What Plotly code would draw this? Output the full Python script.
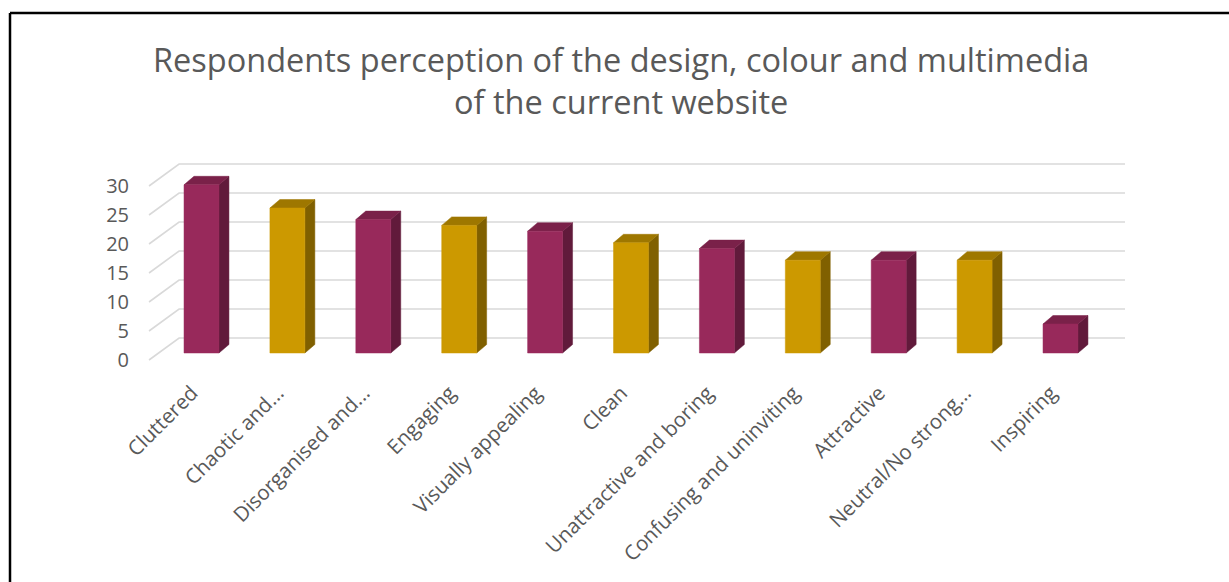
import plotly.graph_objects as go

categories = ["Cluttered", "Chaotic and...", "Disorganised and...", "Engaging",
              "Visually appealing", "Clean", "Unattractive and boring",
              "Confusing and uninviting", "Attractive", "Neutral/No strong...", "Inspiring"]
values = [29, 25, 23, 22, 21, 19, 18, 16, 16, 16, 5]
y_ticks = [0, 5, 10, 15, 20, 25, 30]
title_text = "Respondents perception of the design, colour and multimedia<br>of the current website"

# palette: (front, side, top)
MAG = ("#98295B", "#611A3B", "#7A2149")
GOLD = ("#CC9900", "#806000", "#9E7700")
palette = [MAG if i % 2 == 0 else GOLD for i in range(len(categories))]

# pseudo-3D geometry, in data units (x: category index, y: value)
BAR_HW = 0.2035          # half width of the front face
SDX, SDY = 0.116, 1.466  # bar depth offset
WDX, WDY = 0.239, 2.586  # back wall offset from the bar front plane
FDX, FDY = -0.111, -1.207  # front edge offset from the bar front plane
X_LEFT_FRONT = -0.611
X_RIGHT_BACK = 10.751
X_LEFT_BACK = X_LEFT_FRONT + (WDX - FDX)

fig = go.Figure()

# grid on the back wall + left-wall diagonals
gx, gy = [], []
for v in y_ticks:
    gx += [X_LEFT_FRONT, X_LEFT_BACK, X_RIGHT_BACK, None]
    gy += [v + FDY, v + WDY, v + WDY, None]
fig.add_trace(go.Scatter(x=gx, y=gy, mode="lines", line=dict(color="#D9D9D9", width=1.6),
                         hoverinfo="skip", showlegend=False))

# bars
for i, (v, cols) in enumerate(zip(values, palette)):
    x0, x1 = i - BAR_HW, i + BAR_HW
    front_x = [x0, x1, x1, x0, x0]
    front_y = [0, 0, v, v, 0]
    side_x = [x1, x1 + SDX, x1 + SDX, x1, x1]
    side_y = [0, SDY, v + SDY, v, 0]
    top_x = [x0, x1, x1 + SDX, x0 + SDX, x0]
    top_y = [v, v, v + SDY, v + SDY, v]
    for xs, ys, c in ((side_x, side_y, cols[1]), (top_x, top_y, cols[2]), (front_x, front_y, cols[0])):
        fig.add_trace(go.Scatter(x=xs, y=ys, mode="lines", fill="toself", fillcolor=c,
                                 line=dict(color=c, width=0.5), hoverinfo="skip",
                                 showlegend=False))

# plot area in pixels
L, R, T, B = 130, 1140, 150, 365
PX_X0, PX_PER_X = 201.5, 85.9
PX_Y0, PX_PER_Y = 353.0, 5.8
xr = [(L - PX_X0) / PX_PER_X, (R - PX_X0) / PX_PER_X]
yr = [(PX_Y0 - B) / PX_PER_Y, (PX_Y0 - T) / PX_PER_Y]

FONT = "Open Sans"
GRAY = "#595959"

fig.update_layout(
    width=1229, height=582, autosize=False,
    margin=dict(l=L, r=1229 - R, t=T, b=582 - B),
    paper_bgcolor="white", plot_bgcolor="white",
    font=dict(family=FONT, color=GRAY),
    xaxis=dict(range=xr, showgrid=False, zeroline=False, showline=False,
               tickmode="array", tickvals=[i + FDX for i in range(len(categories))],
               ticktext=categories, tickangle=-45, ticks="", ticklabelstandoff=11,
               tickfont=dict(family=FONT, size=20.5, color=GRAY)),
    yaxis=dict(range=yr, showgrid=False, zeroline=False, showline=False,
               tickmode="array", tickvals=[v + FDY for v in y_ticks],
               ticktext=[str(v) for v in y_ticks], ticks="",
               tickfont=dict(family=FONT, size=20, color=GRAY)),
    showlegend=False,
)

fig.add_annotation(text=title_text, xref="paper", yref="paper",
                   x=(620.5 - L) / (R - L), y=(B - 81) / (B - T),
                   xanchor="center", yanchor="middle", showarrow=False,
                   font=dict(family=FONT, size=32.5, color=GRAY))

# frame (top and left edges visible)
def px_to_paper(px, py):
    return (px - L) / (R - L), (B - py) / (B - T)

fx0, fy0 = px_to_paper(10, 13)
fx1, fy1 = px_to_paper(1240, 600)
fig.add_shape(type="line", xref="paper", yref="paper", x0=fx0, y0=fy0, x1=fx1, y1=fy0,
              line=dict(color="black", width=2.5))
fig.add_shape(type="line", xref="paper", yref="paper", x0=fx0, y0=fy0, x1=fx0, y1=fy1,
              line=dict(color="black", width=2.5))

fig.write_html("out.html")
